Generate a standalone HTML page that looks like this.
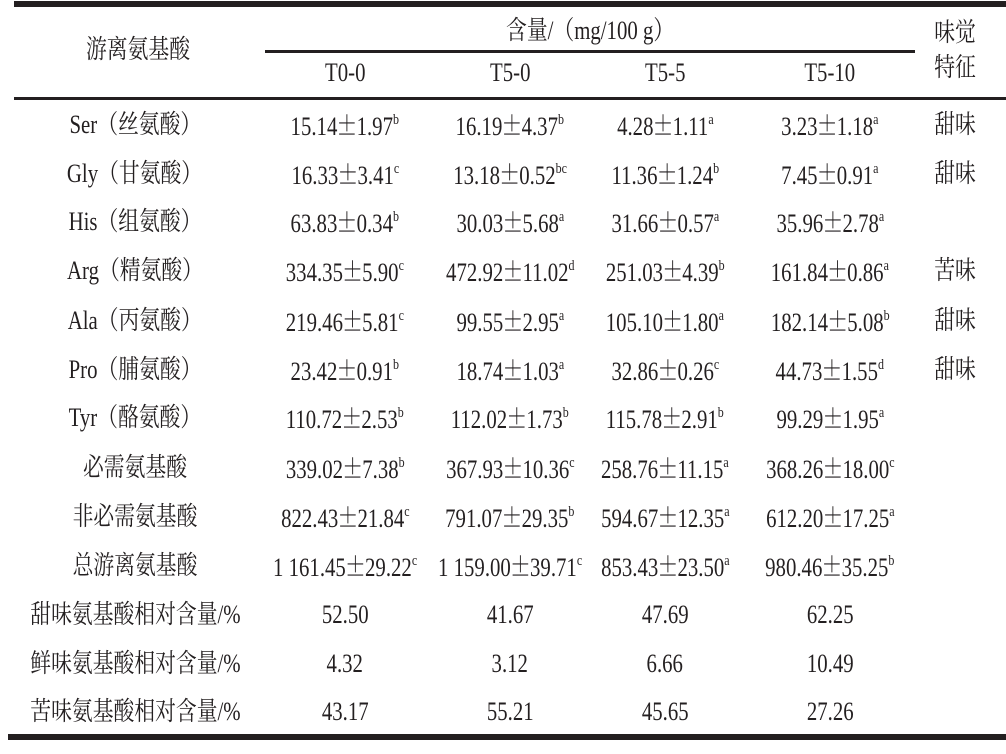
<!DOCTYPE html>
<html><head><meta charset="utf-8"><style>
body{margin:0;background:#fff;width:1006px;height:754px;position:relative;overflow:hidden;font-family:"Liberation Serif","Noto Serif CJK SC",serif;color:#231f20}
.c{position:absolute;width:300px;margin-left:-150px;text-align:center;font-size:26px;line-height:30px;margin-top:-15px;white-space:nowrap}
.c span{display:inline-block;transform:scaleX(.8);transform-origin:center}
sup{font-size:15px;vertical-align:top;position:relative;top:-5px}
b{font-weight:normal;font-family:"Noto Serif CJK SC",serif;font-size:26px;margin:0 -1px}
.l{position:absolute;background:#231f20}
</style></head><body>
<div class="l" style="left:14px;top:1px;width:992px;height:6px"></div>
<div class="l" style="left:265px;top:50px;width:650px;height:3px"></div>
<div class="l" style="left:14px;top:97px;width:992px;height:3px"></div>
<div class="l" style="left:8px;top:734px;width:998px;height:6px"></div>
<div id="t"></div>
<script>
const rows=[
["Ser（丝氨酸）","15.14±1.97<sup>b</sup>","16.19±4.37<sup>b</sup>","4.28±1.11<sup>a</sup>","3.23±1.18<sup>a</sup>","甜味"],
["Gly（甘氨酸）","16.33±3.41<sup>c</sup>","13.18±0.52<sup>bc</sup>","11.36±1.24<sup>b</sup>","7.45±0.91<sup>a</sup>","甜味"],
["His（组氨酸）","63.83±0.34<sup>b</sup>","30.03±5.68<sup>a</sup>","31.66±0.57<sup>a</sup>","35.96±2.78<sup>a</sup>",""],
["Arg（精氨酸）","334.35±5.90<sup>c</sup>","472.92±11.02<sup>d</sup>","251.03±4.39<sup>b</sup>","161.84±0.86<sup>a</sup>","苦味"],
["Ala（丙氨酸）","219.46±5.81<sup>c</sup>","99.55±2.95<sup>a</sup>","105.10±1.80<sup>a</sup>","182.14±5.08<sup>b</sup>","甜味"],
["Pro（脯氨酸）","23.42±0.91<sup>b</sup>","18.74±1.03<sup>a</sup>","32.86±0.26<sup>c</sup>","44.73±1.55<sup>d</sup>","甜味"],
["Tyr（酪氨酸）","110.72±2.53<sup>b</sup>","112.02±1.73<sup>b</sup>","115.78±2.91<sup>b</sup>","99.29±1.95<sup>a</sup>",""],
["必需氨基酸","339.02±7.38<sup>b</sup>","367.93±10.36<sup>c</sup>","258.76±11.15<sup>a</sup>","368.26±18.00<sup>c</sup>",""],
["非必需氨基酸","822.43±21.84<sup>c</sup>","791.07±29.35<sup>b</sup>","594.67±12.35<sup>a</sup>","612.20±17.25<sup>a</sup>",""],
["总游离氨基酸","1 161.45±29.22<sup>c</sup>","1 159.00±39.71<sup>c</sup>","853.43±23.50<sup>a</sup>","980.46±35.25<sup>b</sup>",""],
["甜味氨基酸相对含量/%","52.50","41.67","47.69","62.25",""],
["鲜味氨基酸相对含量/%","4.32","3.12","6.66","10.49",""],
["苦味氨基酸相对含量/%","43.17","55.21","45.65","27.26",""]];
const ys=[125,174,222,271,321,370,418,468,517,566,615,664,712];
const xs=[135,345,510,665,830,955];
let h='';
const put=(x,y,s)=>h+=`<div class="c" style="left:${x}px;top:${y}px"><span>${s.replace(/±/g,'<b>±</b>')}</span></div>`;
put(138,50,"游离氨基酸");put(590,31,"含量/（mg/100 g）");put(955,33,"味觉");put(955,68,"特征");
["T0-0","T5-0","T5-5","T5-10"].forEach((s,i)=>put(xs[i+1],73,s));
rows.forEach((r,i)=>r.forEach((s,j)=>{if(s)put(xs[j],ys[i],s)}));
document.getElementById('t').innerHTML=h;
</script>
</body></html>
